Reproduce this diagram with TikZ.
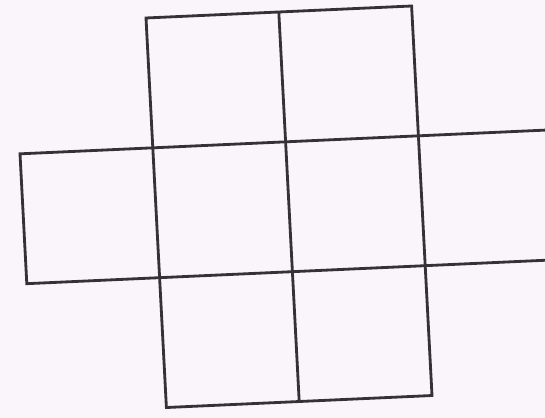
\documentclass[tikz,border=0pt]{standalone}
\usepackage{xcolor}
\usepackage{tikz}
\definecolor{paper}{RGB}{249,245,250}
\definecolor{ink}{RGB}{52,50,54}

\begin{document}
\begin{tikzpicture}[
  cellline/.style={draw=ink, line width=2pt, line join=miter},
  netframe/.style={shift={(3.65,10.0)}, x={(3.32cm,0.15cm)}, y={(-0.17cm,3.246cm)}}
]
\useasboundingbox[fill=paper] (0,0) rectangle (13.625,10.45);
\clip (0,0) rectangle (13.625,10.45);
\begin{scope}[netframe]
% middle column block, 2 x 3
\draw[cellline] (0,0) -- (2,0) -- (2,-3) -- (0,-3) -- cycle;
\draw[cellline] (1,0) -- (1,-3);
% cross row, open towards the right
\foreach \j in {1,2}
  \draw[cellline] (0,-\j) -- (3.3,-\j);
\draw[cellline] (0,-1) -- (-1,-1) -- (-1,-2) -- (0,-2);
\end{scope}
\end{tikzpicture}
\end{document}
